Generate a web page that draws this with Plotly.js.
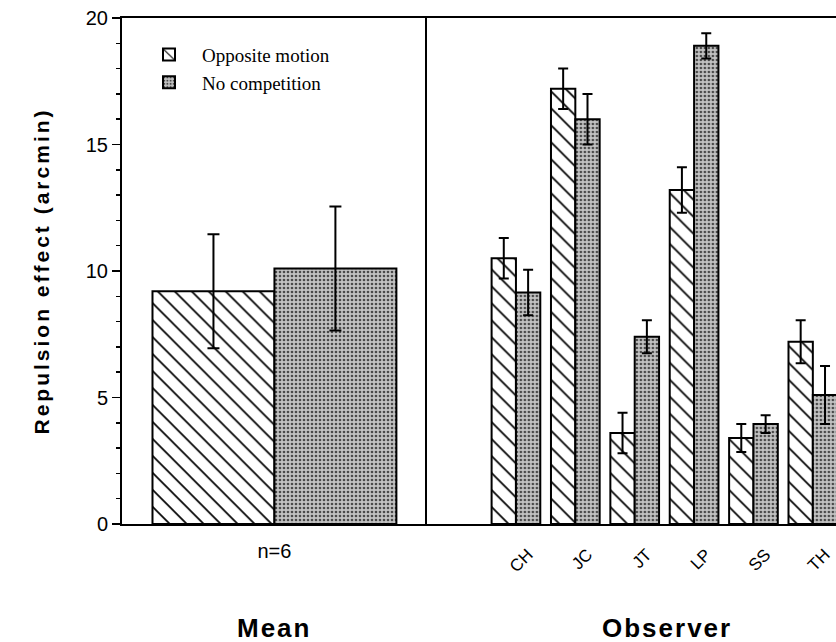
<!DOCTYPE html>
<html>
<head>
<meta charset="utf-8">
<script src="https://cdn.plot.ly/plotly-3.0.1.min.js"></script>
<style>
  html, body { margin: 0; padding: 0; background: #fff; }
  #chart { width: 836px; height: 642px; }
  /* tracked-out bold lettering for the axis titles */
  #chart .ytitle { letter-spacing: 3px; }
  #chart .annotation-text { letter-spacing: 2px; }
</style>
</head>
<body>
<div id="chart"></div>
<script>
// Mean panel (n=6)
const meanLabel = ['n=6'];
const meanOpposite = [9.2];
const meanOppositeErr = [2.25];
const meanNoComp = [10.1];
const meanNoCompErr = [2.45];

// Individual observers
const observers = ['CH', 'JC', 'JT', 'LP', 'SS', 'TH'];
const opposite = [10.5, 17.2, 3.6, 13.2, 3.4, 7.2];
const oppositeErr = [0.8, 0.8, 0.8, 0.9, 0.55, 0.85];
const noComp = [9.15, 16.0, 7.4, 18.9, 3.95, 5.1];
const noCompErr = [0.9, 1.0, 0.65, 0.5, 0.35, 1.15];

const seriesNames = ['Opposite motion', 'No competition'];
const panelTitles = ['Mean', 'Observer'];

const hatch = {
  color: '#ffffff',
  line: { color: '#000', width: 2 },
  pattern: { shape: '\\', fgcolor: '#000', bgcolor: '#fff', size: 12, solidity: 0.14 }
};
const stipple = {
  color: '#a8a8a8',
  line: { color: '#000', width: 2 },
  pattern: { shape: '.', fgcolor: '#4a4a4a', bgcolor: '#c2c2c2', size: 4, solidity: 0.35 }
};

function errs(arr, w) {
  return { type: 'data', array: arr, visible: true, color: '#000', thickness: 2, width: w };
}

const traces = [
  {
    type: 'bar', name: seriesNames[0], x: meanLabel, y: meanOpposite,
    xaxis: 'x', yaxis: 'y', offset: -0.4, width: 0.4,
    marker: hatch, error_y: errs(meanOppositeErr, 6), legendgroup: 'a'
  },
  {
    type: 'bar', name: seriesNames[1], x: meanLabel, y: meanNoComp,
    xaxis: 'x', yaxis: 'y', offset: 0, width: 0.4,
    marker: stipple, error_y: errs(meanNoCompErr, 6), legendgroup: 'b'
  },
  {
    type: 'bar', name: seriesNames[0], x: observers, y: opposite,
    xaxis: 'x2', yaxis: 'y2', offset: -0.41, width: 0.41,
    marker: hatch, error_y: errs(oppositeErr, 5), legendgroup: 'a', showlegend: false
  },
  {
    type: 'bar', name: seriesNames[1], x: observers, y: noComp,
    xaxis: 'x2', yaxis: 'y2', offset: 0, width: 0.41,
    marker: stipple, error_y: errs(noCompErr, 5), legendgroup: 'b', showlegend: false
  }
];

const sans = 'Liberation Sans, Arial, Helvetica, sans-serif';
const tickFont = { family: sans, size: 20, color: '#000' };
const boldFont = { family: sans, size: 26, color: '#000', weight: 'bold' };

const layout = {
  width: 836, height: 642,
  margin: { l: 122, r: 0, t: 18, b: 118 },
  paper_bgcolor: '#fff', plot_bgcolor: 'rgba(0,0,0,0)',
  barmode: 'overlay',
  showlegend: true,
  legend: {
    x: 0.0196, y: 0.965, xanchor: 'left', yanchor: 'top',
    bgcolor: 'rgba(0,0,0,0)', borderwidth: 0,
    itemwidth: 56,
    font: { family: 'Liberation Serif, Times New Roman, serif', size: 19, color: '#000' },
    tracegroupgap: 0
  },
  xaxis: {
    domain: [0, 0.427], type: 'category', range: [-0.5, 0.5],
    showline: true, linecolor: '#000', linewidth: 2, mirror: true,
    ticks: '', showgrid: false, zeroline: false,
    tickfont: tickFont, ticklabelstandoff: 8
  },
  yaxis: {
    domain: [0, 1], range: [0, 20], dtick: 5,
    showline: true, linecolor: '#000', linewidth: 2,
    ticks: 'outside', ticklen: 8, tickwidth: 1.5, tickcolor: '#000',
    minor: { dtick: 1, ticks: 'outside', ticklen: 4, tickwidth: 1.5, tickcolor: '#000', showgrid: false },
    showgrid: false, zeroline: false,
    tickfont: tickFont,
    title: { text: 'Repulsion effect (arcmin)', font: { family: sans, size: 21, color: '#000', weight: 'bold' }, standoff: 30 }
  },
  xaxis2: {
    domain: [0.427, 1], type: 'category', range: [-1.5, 5.39], anchor: 'y2',
    showline: true, linecolor: '#000', linewidth: 2, mirror: true,
    ticks: '', showgrid: false, zeroline: false,
    tickfont: { family: sans, size: 17, color: '#000' },
    tickangle: -45, ticklabelstandoff: 12, ticklabelshift: 12
  },
  yaxis2: {
    domain: [0, 1], range: [0, 20], anchor: 'x2', matches: 'y',
    showline: true, linecolor: '#000', linewidth: 2,
    ticks: '', showticklabels: false, showgrid: false, zeroline: false
  },
  annotations: [
    { text: panelTitles[0], xref: 'x domain', yref: 'paper', x: 0.5, y: -0.205,
      xanchor: 'center', yanchor: 'middle', showarrow: false, font: boldFont },
    { text: panelTitles[1], xref: 'x2 domain', yref: 'paper', x: 0.587, y: -0.205,
      xanchor: 'center', yanchor: 'middle', showarrow: false, font: boldFont }
  ]
};

Plotly.newPlot('chart', traces, layout, { staticPlot: true, displayModeBar: false });
</script>
</body>
</html>
